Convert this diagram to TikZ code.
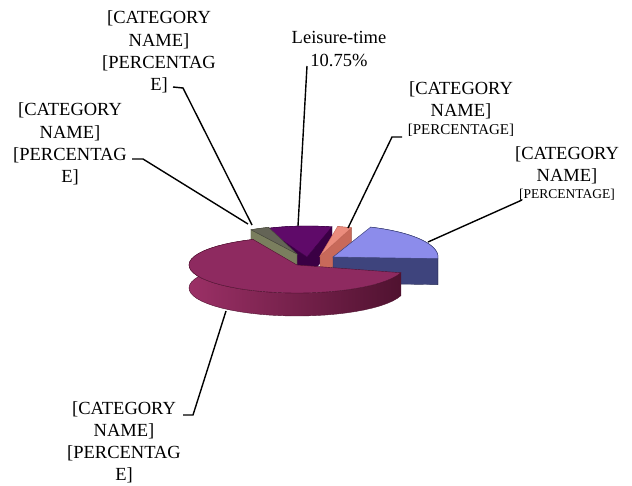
\documentclass[tikz,border=0pt]{standalone}
\usepackage{fontspec}
\setmainfont{Liberation Serif}

\definecolor{blueT}{RGB}{140,140,235}
\definecolor{blueS}{RGB}{62,68,125}
\definecolor{salmonT}{RGB}{235,140,125}
\definecolor{salmonS}{RGB}{200,105,90}
\definecolor{purpleT}{RGB}{95,10,105}
\definecolor{purpleS}{RGB}{58,0,68}
\definecolor{oliveT}{RGB}{100,100,86}
\definecolor{oliveS}{RGB}{122,126,94}
\definecolor{maroonT}{RGB}{142,42,96}
\definecolor{maroonL}{RGB}{155,48,102}
\definecolor{maroonR}{RGB}{80,18,48}

\tikzset{
  lbl/.style={align=center, inner sep=0pt, font=\fontsize{18.5}{22.2}\selectfont},
  leader/.style={line width=1.4pt},
  blueTop/.style={fill=blueT, draw=blueS, line width=0.5pt},
  blueSide/.style={fill=blueS, draw=blueS!70!black, line width=0.4pt},
  salmonTop/.style={fill=salmonT, draw=salmonS, line width=0.4pt},
  salmonSide/.style={fill=salmonS, draw=salmonS!80!black, line width=0.4pt},
  purpleTop/.style={fill=purpleT, draw=purpleS, line width=0.4pt},
  purpleSide/.style={fill=purpleS, draw=purpleS, line width=0.4pt},
  oliveTop/.style={fill=oliveT, draw=oliveT!70!black, line width=0.4pt},
  oliveSide/.style={fill=oliveS, draw=oliveS!70!black, line width=0.4pt},
  maroonTop/.style={fill=maroonT, draw=maroonR, line width=0.4pt},
  maroonSide/.style={left color=maroonL, right color=maroonR, draw=maroonR, line width=0.4pt}
}

% cx, cy, rx, ry, h, start, end, top style, side style
\newcommand{\pieslice}[9]{%
  \draw[#9] plot[domain=#6:#7,samples=40] ({#1+#3*cos(\x)},{#2-#4*sin(\x)})
    -- plot[domain=#7:#6,samples=40] ({#1+#3*cos(\x)},{#2+#5-#4*sin(\x)}) -- cycle;
  \pgfmathsetmacro\slcosA{cos(#6)}
  \pgfmathsetmacro\slcosB{cos(#7)}
  \ifdim\slcosA pt>0pt
    \draw[#9] (#1,#2) -- ({#1+#3*cos(#6)},{#2-#4*sin(#6)}) -- ++(0,#5) -- (#1,#2+#5) -- cycle;
  \fi
  \ifdim\slcosB pt<0pt
    \draw[#9] (#1,#2) -- ({#1+#3*cos(#7)},{#2-#4*sin(#7)}) -- ++(0,#5) -- (#1,#2+#5) -- cycle;
  \fi
  \draw[#8] (#1,#2) -- plot[domain=#6:#7,samples=40] ({#1+#3*cos(\x)},{#2-#4*sin(\x)}) -- cycle;
}

\begin{document}
\begin{tikzpicture}[x=1pt,y=-1pt]
\useasboundingbox (0,0) rectangle (632,485);

% slices, back to front
\pieslice{307}{257}{103}{31}{22}{76}{114}{purpleTop}{purpleSide}
\pieslice{297}{254}{92}{28}{22}{108}{120}{oliveTop}{oliveSide}
\pieslice{320}{256}{92}{30}{22}{70}{79}{salmonTop}{salmonSide}
\pieslice{333}{257}{105}{32}{26}{-3}{69}{blueTop}{blueSide}
\pieslice{297}{265}{108}{28}{23}{114}{344}{maroonTop}{maroonSide}

% labels
\node[lbl] (tl) at (159,52) {[CATEGORY\\NAME]\\{[}PERCENTAG\\E]};
\node[lbl] (lf) at (70,144) {[CATEGORY\\NAME]\\{[}PERCENTAG\\E]};
\node[lbl] (leis) at (339,49) {Leisure-time\\10.75\%};
\node[lbl] (rc) at (461,109) {[CATEGORY\\NAME]\\[-4pt]{\fontsize{15}{18}\selectfont [PERCENTAGE]}};
\node[lbl] (fr) at (567,173.5) {[CATEGORY\\NAME]\\[-5.5pt]{\fontsize{13.5}{16}\selectfont [PERCENTAGE]}};
\node[lbl] (bl) at (124,442.5) {[CATEGORY\\NAME]\\{[}PERCENTAG\\E]};

% leader lines
\coordinate (tlA) at (173,87);
\coordinate (tlB) at (183,88);
\coordinate (tlEnd) at (252,225);
\draw[leader] (tlA) -- (tlB) -- (tlEnd);
\coordinate (lfA) at (132,159);
\coordinate (lfB) at (143,159);
\coordinate (lfEnd) at (248,224);
\draw[leader] (lfA) -- (lfB) -- (lfEnd);
\coordinate (leisA) at (307,66);
\coordinate (leisEnd) at (298,226);
\draw[leader] (leisA) -- (leisEnd);
\coordinate (rcA) at (402,137);
\coordinate (rcB) at (392,137);
\coordinate (rcEnd) at (348,228);
\draw[leader] (rcA) -- (rcB) -- (rcEnd);
\coordinate (frA) at (522,200);
\coordinate (frEnd) at (428,242);
\draw[leader] (frA) -- (frEnd);
\coordinate (blA) at (183,415);
\coordinate (blB) at (193,415);
\coordinate (blEnd) at (226,311);
\draw[leader] (blA) -- (blB) -- (blEnd);
\end{tikzpicture}
\end{document}
